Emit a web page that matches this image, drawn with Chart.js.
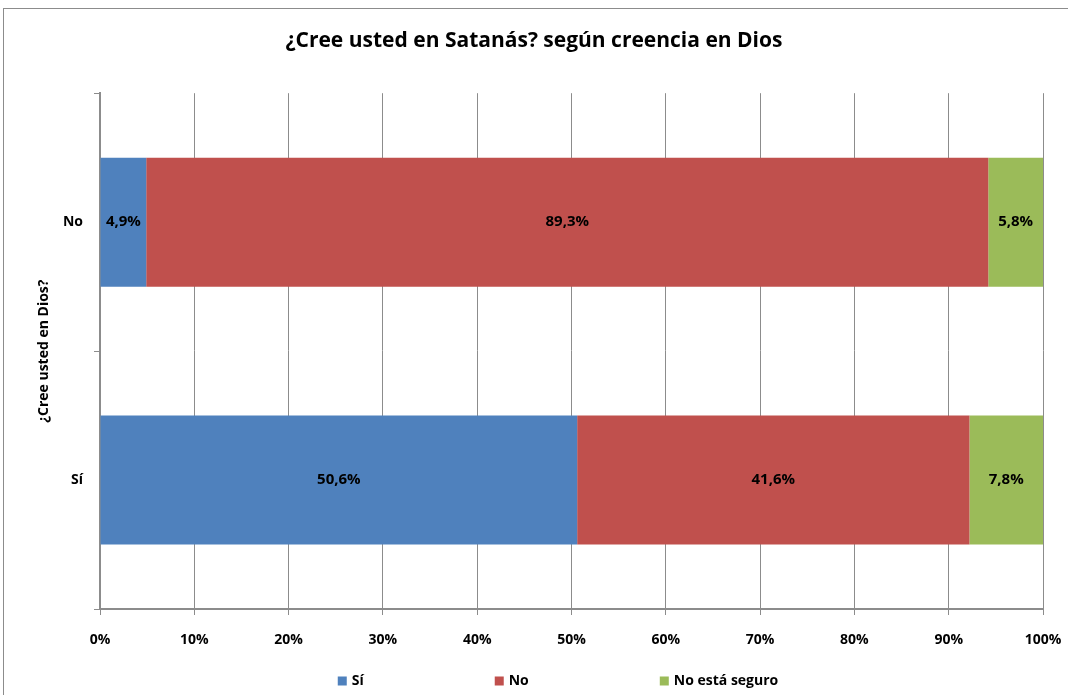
<!DOCTYPE html>
<html lang="es">
<head>
<meta charset="UTF-8">
<title>¿Cree usted en Satanás? según creencia en Dios</title>
<script src="https://cdn.jsdelivr.net/npm/chart.js"></script>
<style>
  body, html { margin: 0; padding: 0; background: #fff; overflow: hidden; }
  #wrap { position: relative; width: 1068px; height: 695px; }
  #frame { position: absolute; left: 3px; top: 8px; width: 1080px; height: 700px; border: 1px solid #8c8c8c; box-sizing: border-box; }
  canvas { position: absolute; left: 0; top: 0; }
</style>
</head>
<body>
<div id="wrap">
  <div id="frame"></div>
  <canvas id="chart" width="1068" height="695"></canvas>
</div>
<script>
// data
var categories = ['No', 'Sí'];
var seriesNames = ['Sí', 'No', 'No está seguro'];
var siValues = [4.9, 50.6];
var noValues = [89.3, 41.6];
var noSeguroValues = [5.8, 7.8];
var seriesColors = ['#4F81BD', '#C0504D', '#9BBB59'];

var FONT = '"Open Sans", "Noto Sans", sans-serif';
var gridColor = '#8c8c8c';

// labels inside each bar segment
var barLabels = {
  id: 'barLabels',
  afterDatasetsDraw: function(chart) {
    var ctx = chart.ctx;
    ctx.save();
    ctx.font = 'bold 15px ' + FONT;
    ctx.fillStyle = '#000';
    ctx.textAlign = 'center';
    ctx.textBaseline = 'middle';
    chart.data.datasets.forEach(function(ds, i) {
      chart.getDatasetMeta(i).data.forEach(function(bar, j) {
        var p = bar.getCenterPoint();
        ctx.fillText(ds.data[j].toFixed(1).replace('.', ',') + '%', p.x, p.y);
      });
    });
    ctx.restore();
  }
};

// excel style legend, items spread out along the bottom
var bottomLegend = {
  id: 'bottomLegend',
  afterDraw: function(chart) {
    var ctx = chart.ctx;
    var gap = 131, box = 9, textGap = 5;
    ctx.save();
    ctx.font = 'bold 14px ' + FONT;
    var widths = chart.data.datasets.map(function(ds) {
      return box + textGap + ctx.measureText(ds.label).width;
    });
    var total = widths.reduce(function(a, b) { return a + b; }, 0) + gap * (widths.length - 1);
    var x = 558 - total / 2;
    var y = 681;
    ctx.textBaseline = 'middle';
    ctx.textAlign = 'left';
    chart.data.datasets.forEach(function(ds, i) {
      ctx.fillStyle = ds.backgroundColor;
      ctx.fillRect(x, y - box / 2, box, box);
      ctx.fillStyle = '#000';
      ctx.fillText(ds.label, x + box + textGap, y);
      x += widths[i] + gap;
    });
    ctx.restore();
  }
};

var ctx = document.getElementById('chart').getContext('2d');
var chart = new Chart(ctx, {
  type: 'bar',
  data: {
    labels: categories,
    datasets: [
      { label: seriesNames[0], data: siValues, backgroundColor: seriesColors[0] },
      { label: seriesNames[1], data: noValues, backgroundColor: seriesColors[1] },
      { label: seriesNames[2], data: noSeguroValues, backgroundColor: seriesColors[2] }
    ]
  },
  options: {
    indexAxis: 'y',
    responsive: false,
    animation: false,
    barPercentage: 0.5,
    categoryPercentage: 1,
    layout: { padding: { left: 25, right: 25, top: 0, bottom: 40 } },
    scales: {
      x: {
        stacked: true,
        min: 0,
        max: 100,
        afterFit: function(scale) {
          scale.height = 46;
          scale.paddingLeft = 0;
          scale.paddingRight = 0;
        },
        ticks: {
          stepSize: 10,
          padding: 17,
          color: '#000',
          font: { family: FONT, size: 14, weight: 'bold' },
          callback: function(v) { return v + '%'; }
        },
        grid: { color: gridColor, lineWidth: 1, tickLength: 6 },
        border: { color: gridColor, width: 2 }
      },
      y: {
        stacked: true,
        afterFit: function(scale) { scale.width = 75; },
        ticks: {
          padding: 11,
          color: '#000',
          font: { family: FONT, size: 14, weight: 'bold' }
        },
        grid: { drawOnChartArea: false, color: gridColor, tickLength: 6, offset: true },
        border: { color: gridColor, width: 2 },
        title: {
          display: true,
          text: '¿Cree usted en Dios?',
          color: '#000',
          padding: { top: 11 },
          font: { family: FONT, size: 14, weight: 'bold' }
        }
      }
    },
    plugins: {
      legend: { display: false },
      tooltip: { enabled: false },
      title: {
        display: true,
        text: '¿Cree usted en Satanás? según creencia en Dios',
        color: '#000',
        padding: { top: 28, bottom: 40 },
        font: { family: FONT, size: 21, weight: 'bold', lineHeight: 1.2 }
      }
    }
  },
  plugins: [barLabels, bottomLegend]
});
</script>
</body>
</html>
